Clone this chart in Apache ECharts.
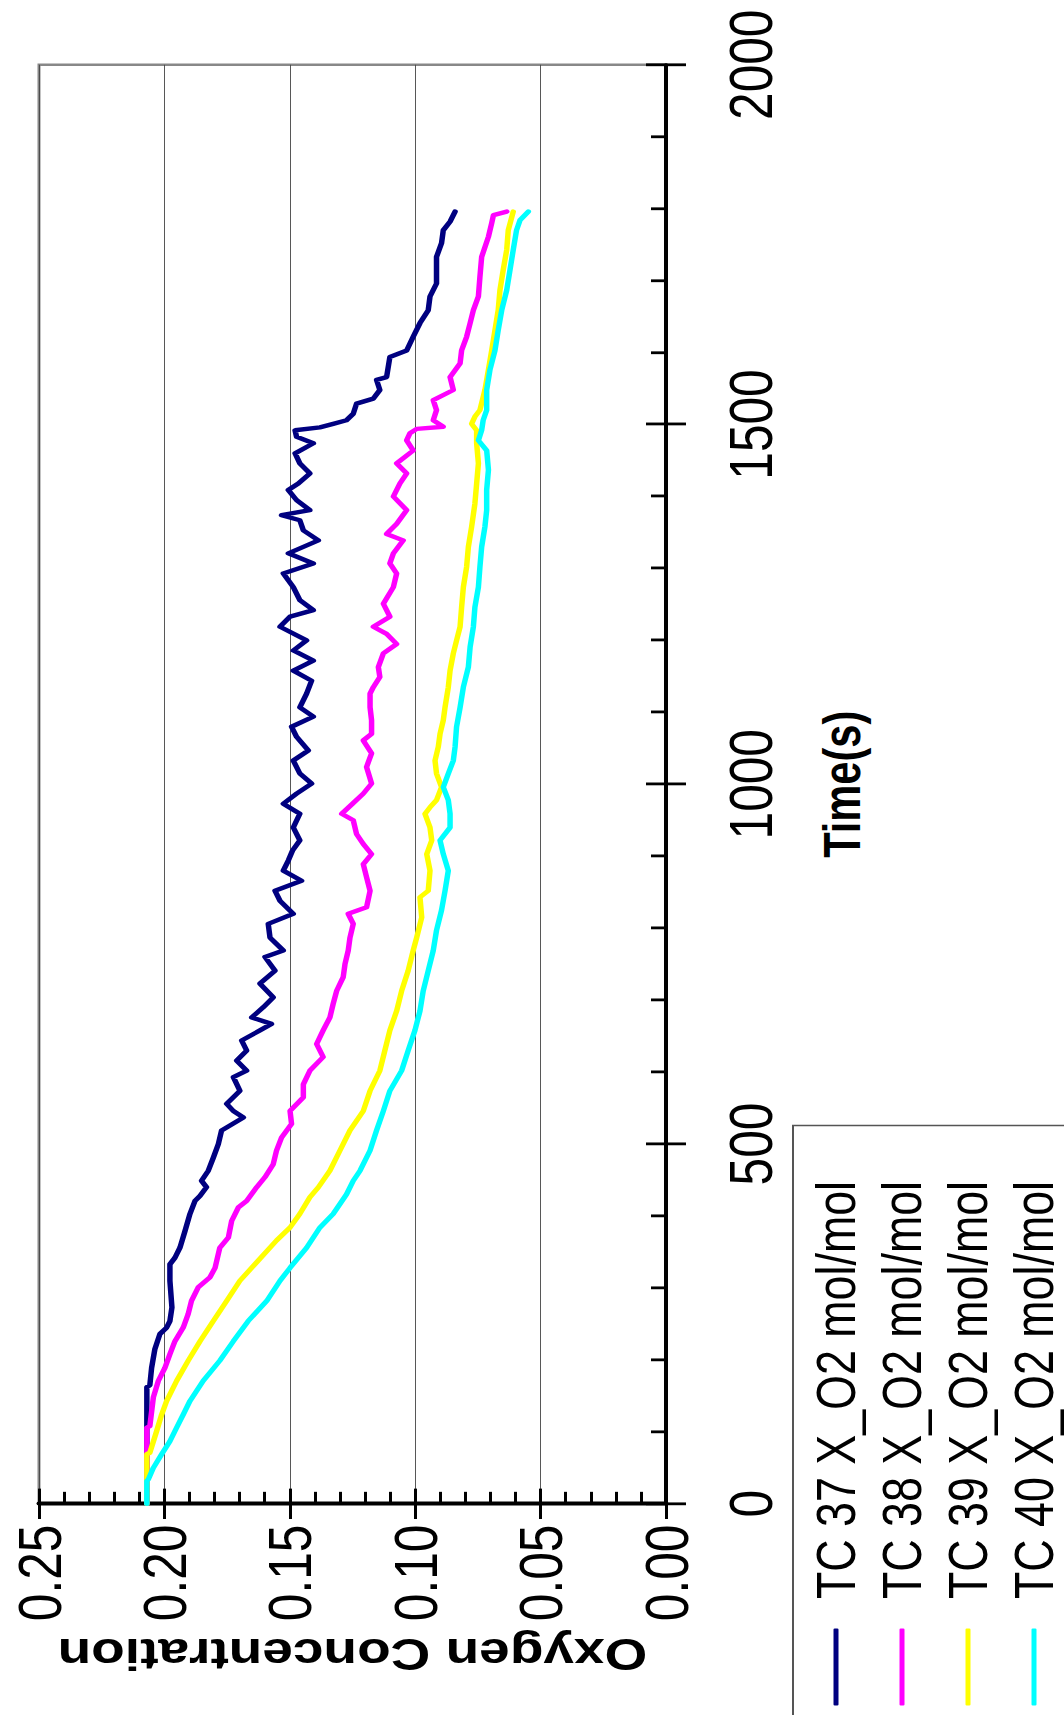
<!DOCTYPE html>
<html><head><meta charset="utf-8">
<script src="https://cdn.jsdelivr.net/npm/echarts@6/dist/echarts.min.js"></script>
<style>
html,body{margin:0;padding:0;width:1064px;height:1715px;overflow:hidden;background:#fff;}
#chart{position:absolute;left:0;top:0;width:2144px;height:1064px;transform-origin:0 0;transform:translate(0,1715px) rotate(-90deg) scaleX(0.79991);}
</style></head><body><div id="chart"></div>
<script>
// ---- data (time in s, oxygen concentration in mol/mol) ----
const seriesNames = ['TC 37 X_O2 mol/mol','TC 38 X_O2 mol/mol','TC 39 X_O2 mol/mol','TC 40 X_O2 mol/mol'];
const seriesColors = ['#000080','#ff00ff','#ffff00','#00ffff'];
const timeTicks = [0,500,1000,1500,2000];
const concTicks = [0,0.05,0.10,0.15,0.20,0.25];

const tc37Time = [0,60,106,162,165,189,215,236,245,254,273,310,333,342,356,379,403,421,428,440,449,463,481,500,519,537,546,556,574,593,602,616,630,644,658,667,676,690,704,723,741,760,769,787,806,820,838,852,866,880,894,908,922,940,959,973,987,1001,1015,1033,1047,1066,1080,1094,1107,1126,1144,1158,1172,1186,1200,1219,1233,1242,1256,1274,1293,1307,1321,1339,1353,1367,1374,1381,1395,1409,1418,1432,1446,1460,1474,1483,1492,1496,1501,1506,1515,1529,1536,1548,1562,1566,1594,1603,1622,1641,1659,1678,1696,1715,1733,1752,1770,1782,1796];
const tc37O2 = [0.207,0.207,0.207,0.207,0.2058,0.2051,0.2038,0.2018,0.1991,0.1978,0.197,0.1978,0.1978,0.1958,0.1938,0.1918,0.1898,0.1878,0.1858,0.1832,0.1852,0.1825,0.1805,0.1785,0.1772,0.1685,0.1725,0.1752,0.1699,0.1725,0.1672,0.1712,0.1672,0.1692,0.1619,0.1573,0.1652,0.1606,0.1566,0.1619,0.1559,0.1599,0.1526,0.1579,0.1586,0.1486,0.1539,0.1559,0.1453,0.1526,0.1506,0.1489,0.1460,0.1486,0.1460,0.1526,0.1473,0.1413,0.1460,0.1486,0.1426,0.1473,0.1493,0.1406,0.1460,0.1433,0.1413,0.1486,0.1406,0.1486,0.1433,0.1539,0.1499,0.1406,0.1460,0.1486,0.1526,0.1406,0.1506,0.1386,0.1446,0.1460,0.1533,0.1420,0.1473,0.1506,0.1466,0.1420,0.1460,0.1479,0.1406,0.1473,0.1479,0.1380,0.1327,0.1274,0.1247,0.1234,0.1167,0.1141,0.1154,0.1114,0.1101,0.1034,0.1008,0.0981,0.0948,0.0941,0.0915,0.0915,0.0915,0.0895,0.0888,0.0861,0.0841];

const tc38Time = [0,106,108,148,171,189,208,226,245,264,282,301,315,328,356,370,393,412,421,440,454,472,491,509,528,546,565,583,602,621,639,658,676,695,713,732,750,769,787,806,820,829,852,871,889,903,917,931,950,959,973,987,1001,1024,1043,1061,1070,1089,1107,1126,1135,1149,1163,1182,1195,1209,1219,1233,1251,1274,1293,1307,1321,1339,1348,1362,1381,1400,1418,1432,1446,1464,1478,1488,1494,1497,1506,1520,1534,1548,1566,1585,1603,1622,1641,1659,1678,1705,1733,1761,1780,1791,1796];
const tc38O2 = [0.207,0.207,0.2058,0.2044,0.2024,0.1998,0.1978,0.1958,0.1925,0.1905,0.1892,0.1865,0.1818,0.1798,0.1779,0.1745,0.1732,0.1705,0.1672,0.1632,0.1599,0.1566,0.1553,0.1533,0.1493,0.1499,0.1446,0.1446,0.1420,0.1367,0.1393,0.1367,0.1340,0.1327,0.1313,0.1287,0.1280,0.1267,0.1260,0.1247,0.1267,0.1194,0.1180,0.1194,0.1207,0.1174,0.1207,0.1234,0.1247,0.1293,0.1250,0.1207,0.1174,0.1194,0.1174,0.1207,0.1174,0.1174,0.1180,0.1180,0.1167,0.1141,0.1147,0.1127,0.1074,0.1114,0.1167,0.1101,0.1127,0.1087,0.1074,0.1101,0.1087,0.1048,0.1114,0.1074,0.1034,0.1087,0.1061,0.1034,0.1074,0.1008,0.1034,0.1021,0.0994,0.0888,0.0928,0.0915,0.0928,0.0848,0.0861,0.0821,0.0815,0.0795,0.0781,0.0768,0.0748,0.0742,0.0735,0.0708,0.0695,0.0688,0.0635];

const tc39Time = [0,69,71,101,124,143,171,199,226,254,282,310,338,366,384,403,426,440,463,491,519,546,574,602,630,658,685,713,741,769,787,815,843,852,880,903,922,940,959,968,978,996,1015,1033,1052,1070,1089,1107,1135,1158,1182,1200,1219,1246,1274,1302,1330,1358,1390,1418,1446,1474,1492,1501,1511,1520,1548,1576,1603,1631,1659,1687,1715,1743,1770,1796];
const tc39O2 = [0.207,0.207,0.2058,0.2031,0.2011,0.1991,0.1951,0.1905,0.1858,0.1805,0.1752,0.1699,0.1626,0.1553,0.1499,0.1460,0.1420,0.1386,0.1340,0.1300,0.1260,0.1207,0.1180,0.1141,0.1121,0.1101,0.1074,0.1054,0.1028,0.1008,0.0994,0.0974,0.0981,0.0948,0.0941,0.0954,0.0934,0.0941,0.0961,0.0941,0.0915,0.0895,0.0915,0.0921,0.0908,0.0901,0.0888,0.0881,0.0868,0.0861,0.0848,0.0835,0.0821,0.0815,0.0808,0.0795,0.0788,0.0775,0.0762,0.0755,0.0748,0.0755,0.0755,0.0775,0.0762,0.0742,0.0722,0.0708,0.0695,0.0682,0.0669,0.0662,0.0649,0.0635,0.0629,0.0609];

const tc40Time = [0,32,34,50,69,87,106,124,143,171,199,226,254,282,310,328,356,384,403,430,449,463,491,519,546,574,602,630,658,685,713,741,769,797,825,852,880,903,922,940,959,978,996,1015,1033,1052,1080,1107,1135,1163,1191,1219,1246,1274,1302,1330,1358,1381,1409,1437,1464,1478,1492,1506,1520,1548,1576,1603,1631,1659,1687,1715,1743,1770,1784,1796];
const tc40O2 = [0.207,0.207,0.2064,0.2044,0.2011,0.1978,0.1951,0.1925,0.1898,0.1845,0.1779,0.1725,0.1666,0.1592,0.1539,0.1499,0.1433,0.1380,0.1327,0.1274,0.1247,0.1220,0.1180,0.1154,0.1127,0.1101,0.1054,0.1028,0.1001,0.0981,0.0968,0.0948,0.0928,0.0915,0.0895,0.0881,0.0868,0.0888,0.0901,0.0861,0.0861,0.0868,0.0888,0.0868,0.0848,0.0841,0.0835,0.0821,0.0808,0.0788,0.0781,0.0768,0.0762,0.0748,0.0742,0.0735,0.0722,0.0715,0.0715,0.0708,0.0715,0.0748,0.0735,0.0729,0.0715,0.0715,0.0702,0.0682,0.0669,0.0655,0.0635,0.0622,0.0609,0.0596,0.0582,0.0549];

// ---- chart ----
const FONT = "'Liberation Sans',Arial,Helvetica,sans-serif";
const zip = (t, v) => t.map((x, i) => [x, v[i]]);
const allTimes = [tc37Time, tc38Time, tc39Time, tc40Time];
const allO2 = [tc37O2, tc38O2, tc39O2, tc40O2];

const chart = echarts.init(document.getElementById('chart'), null, {renderer: 'svg'});
const tStep = timeTicks[1] - timeTicks[0];
const cStep = concTicks[1] - concTicks[0];
const black = '#000';

const option = {
  animation: false,
  backgroundColor: '#fff',
  grid: {left: 264, right: 81, top: 39, bottom: 398, show: true, borderColor: '#888', borderWidth: 3, backgroundColor: 'transparent'},
  xAxis: [
    {type: 'value', position: 'bottom', min: timeTicks[0], max: timeTicks[timeTicks.length - 1], interval: tStep,
     axisLine: {show: true, onZero: false, lineStyle: {color: black, width: 4}},
     axisTick: {show: true, inside: false, length: 20, lineStyle: {color: black, width: 3.5}},
     splitLine: {show: false},
     axisLabel: {margin: 53, fontSize: 62, fontFamily: FONT, color: black, formatter: v => String(v)},
     name: 'Time(s)', nameLocation: 'middle', nameGap: 150,
     nameTextStyle: {fontSize: 52, fontWeight: 'bold', fontFamily: FONT, color: black}},
    {type: 'value', position: 'bottom', min: timeTicks[0], max: timeTicks[timeTicks.length - 1], interval: tStep,
     axisLine: {show: false, onZero: false},
     axisTick: {show: true, inside: true, length: 20, lineStyle: {color: black, width: 3.5}},
     minorTick: {show: true, splitNumber: 5, length: 15, lineStyle: {color: black, width: 3.5}},
     splitLine: {show: false}, axisLabel: {show: false}}
  ],
  yAxis: [
    {type: 'value', position: 'left', min: concTicks[0], max: concTicks[concTicks.length - 1], interval: cStep,
     axisLine: {show: true, onZero: false, lineStyle: {color: black, width: 5}},
     axisTick: {show: true, inside: false, length: 19, lineStyle: {color: black, width: 3}},
     splitLine: {show: true, lineStyle: {color: '#444', width: 1}},
     axisLabel: {margin: 26, fontSize: 62, fontFamily: FONT, color: black, formatter: v => v.toFixed(2)},
     name: 'Oxygen Concentration', nameLocation: 'middle', nameGap: 160, nameRotate: 90,
     nameTextStyle: {fontSize: 55, fontWeight: 'bold', fontFamily: FONT, color: black}},
    {type: 'value', position: 'left', min: concTicks[0], max: concTicks[concTicks.length - 1], interval: cStep,
     axisLine: {show: false, onZero: false},
     axisTick: {show: true, inside: true, length: 19, lineStyle: {color: black, width: 3}},
     minorTick: {show: true, splitNumber: 5, length: 15, lineStyle: {color: black, width: 3}},
     splitLine: {show: false}, axisLabel: {show: false}}
  ],
  legend: {
    data: seriesNames, orient: 'vertical', left: -12, top: 793, height: 1000, padding: [15, 0, 0, 24],
    itemGap: 10, itemWidth: 96, itemHeight: 5, icon: 'roundRect', selectedMode: false,
    textStyle: {fontSize: 56, lineHeight: 56, fontFamily: FONT, color: black, padding: [0, 0, 0, 32]}
  },
  graphic: [{type: 'rect', shape: {x: -12, y: 793, width: 749, height: 400}, style: {fill: 'none', stroke: '#555', lineWidth: 2}, z: 100}],
  series: seriesNames.map((n, i) => ({
    name: n, type: 'line', xAxisIndex: 0, yAxisIndex: 0,
    data: zip(allTimes[i], allO2[i]),
    symbol: 'none', showSymbol: false,
    lineStyle: {color: seriesColors[i], width: 5.5, join: 'round', cap: 'round'},
    itemStyle: {color: seriesColors[i]}, z: 2 + i
  }))
};
chart.setOption(option);
</script></body></html>
